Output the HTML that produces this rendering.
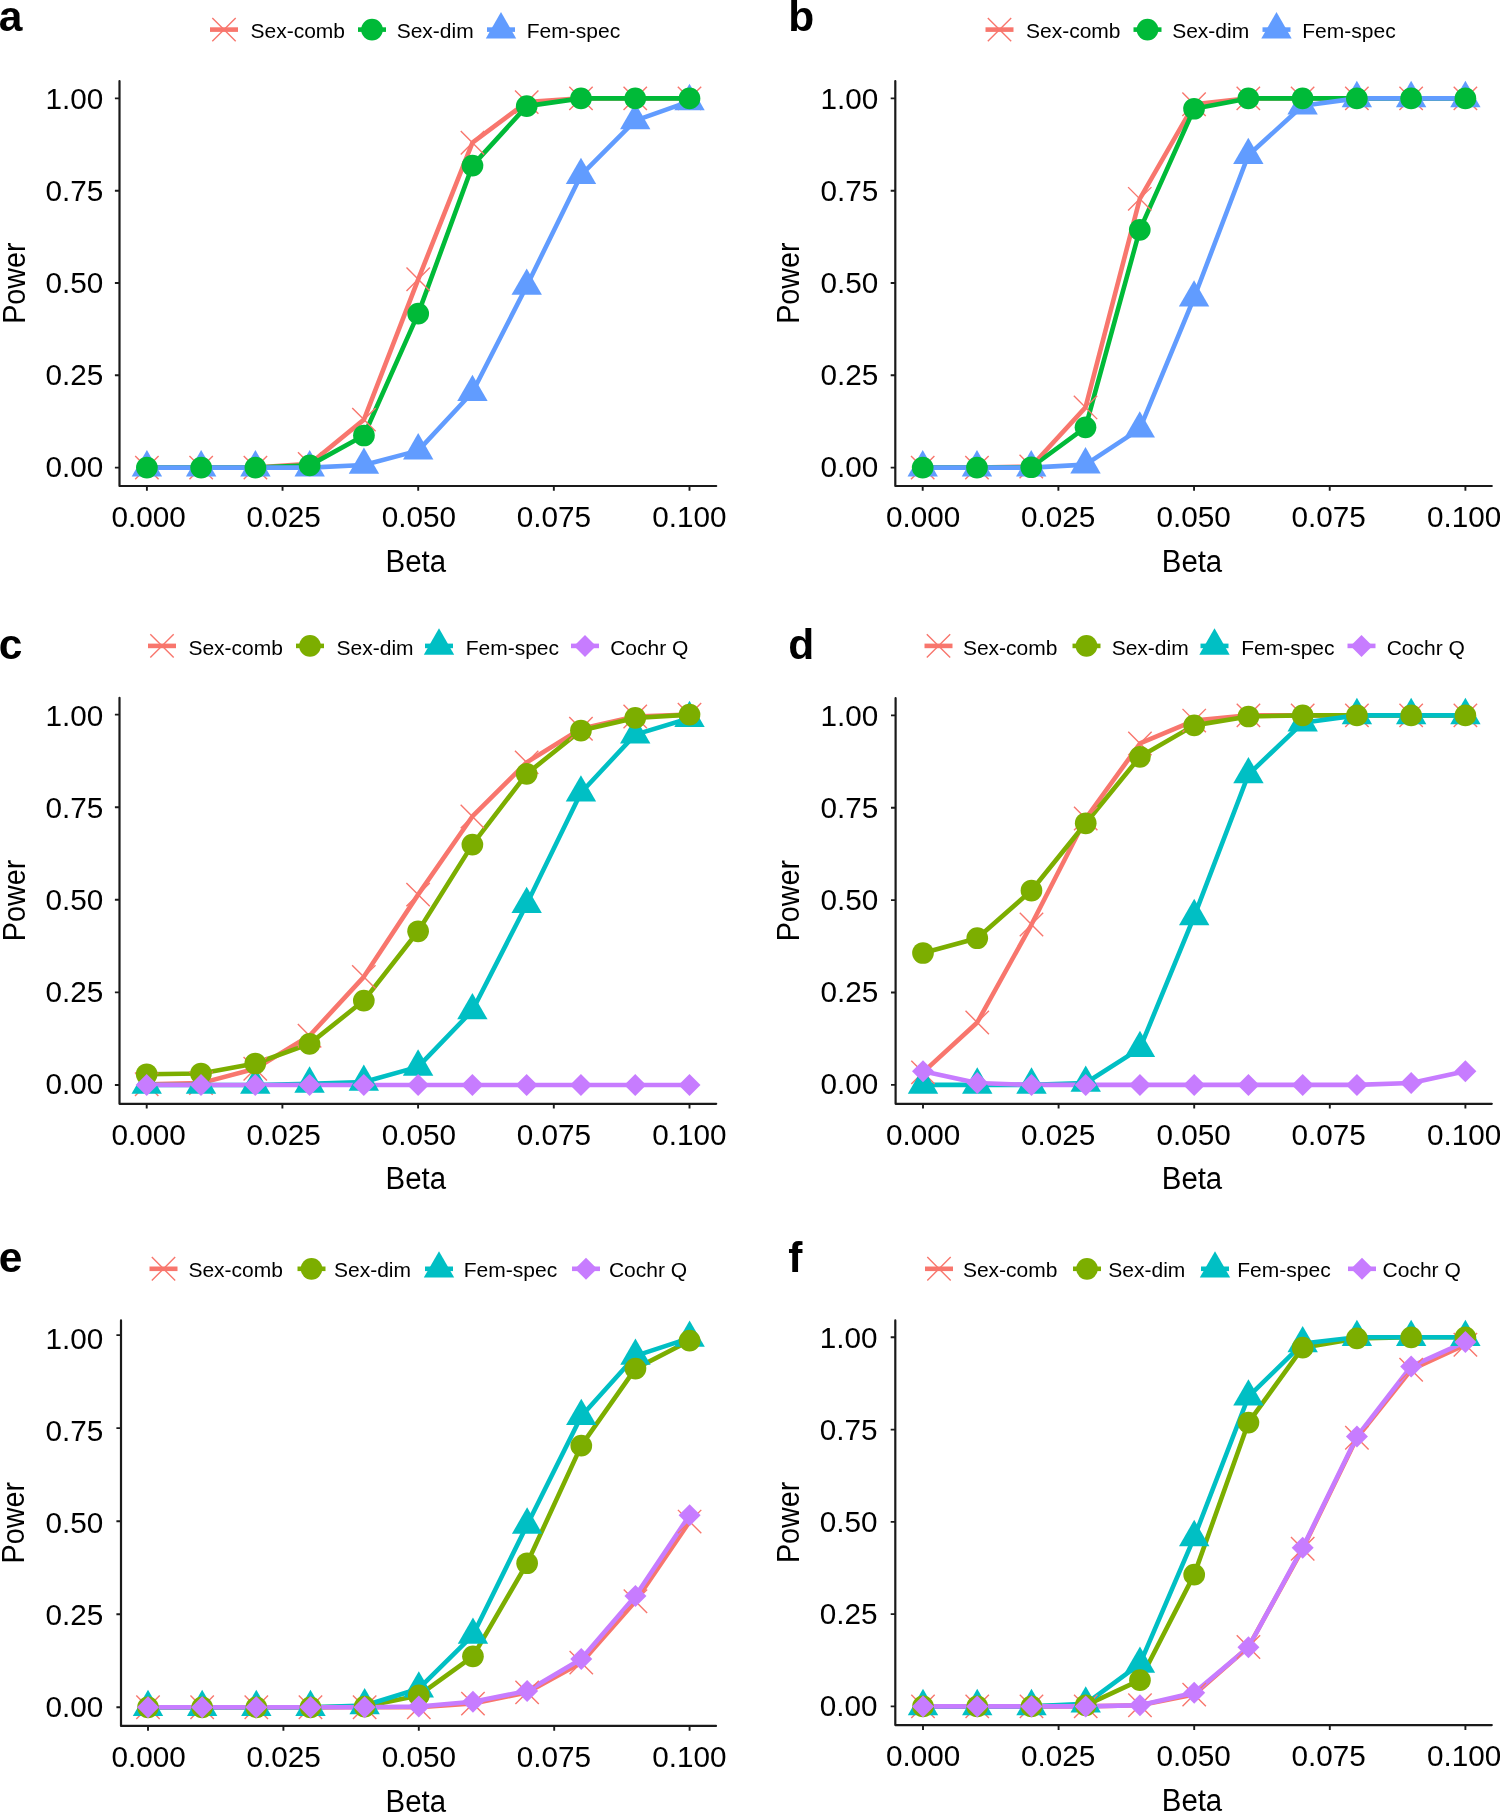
<!DOCTYPE html><html><head><meta charset="utf-8"><title>Power curves</title><style>html,body{margin:0;padding:0;background:#fff;}body{width:1500px;height:1812px;overflow:hidden;}svg{display:block;font-family:"Liberation Sans",sans-serif;}text{font-family:"Liberation Sans",sans-serif;fill:#000;}svg{will-change:transform;}.tk{font-size:29.7px;}.ti{font-size:29.5px;}.tp{font-size:30.6px;}.lg{font-size:21.0px;}.lb{font-size:42.5px;font-weight:bold;}</style></head><body>
<svg width="1500" height="1812" viewBox="0 0 1500 1812">
<rect width="1500" height="1812" fill="#fff"/>
<g><path d="M119.5 81L119.5 486L716.2 486" stroke="#1a1a1a" stroke-width="2.2" fill="none" stroke-linecap="round" stroke-linejoin="round"/><path d="M114.9 467.6H119.5M146.9 486V490.8M114.9 375.3H119.5M282.55 486V490.8M114.9 283H119.5M418.2 486V490.8M114.9 190.7H119.5M553.85 486V490.8M114.9 98.4H119.5M689.5 486V490.8" stroke="#1a1a1a" stroke-width="1.9" fill="none"/><text class="tk" x="103.2" y="477.2" text-anchor="end">0.00</text><text class="tk" x="148.65" y="527" text-anchor="middle">0.000</text><text class="tk" x="103.2" y="385.2" text-anchor="end">0.25</text><text class="tk" x="283.6" y="527" text-anchor="middle">0.025</text><text class="tk" x="103.2" y="293.2" text-anchor="end">0.50</text><text class="tk" x="419" y="527" text-anchor="middle">0.050</text><text class="tk" x="103.2" y="201.2" text-anchor="end">0.75</text><text class="tk" x="553.9" y="527" text-anchor="middle">0.075</text><text class="tk" x="103.2" y="109.2" text-anchor="end">1.00</text><text class="tk" x="689.4" y="527" text-anchor="middle">0.100</text><text class="tp" transform="translate(415.8 571.6) scale(0.96 1)" text-anchor="middle">Beta</text><text class="tp" transform="translate(24.6 283.1) rotate(-90) scale(0.94 1)" text-anchor="middle">Power</text><polyline points="146.9,467.6 201.16,467.6 255.42,467.6 309.68,463.91 363.94,419.6 418.2,279.31 472.46,142.7 526.72,102.09 580.98,98.4 635.24,98.4 689.5,98.4" fill="none" stroke="#F8766D" stroke-width="4.6" stroke-linejoin="round" stroke-linecap="butt"/><polyline points="146.9,467.6 201.16,467.6 255.42,467.6 309.68,465.38 363.94,435.48 418.2,313.64 472.46,165.59 526.72,106.15 580.98,98.4 635.24,98.4 689.5,98.4" fill="none" stroke="#00BA38" stroke-width="4.6" stroke-linejoin="round" stroke-linecap="butt"/><polyline points="146.9,467.6 201.16,467.6 255.42,467.6 309.68,467.6 363.94,465.02 418.2,450.62 472.46,392.28 526.72,285.95 580.98,175.19 635.24,120.55 689.5,101.35" fill="none" stroke="#619CFF" stroke-width="4.6" stroke-linejoin="round" stroke-linecap="butt"/><path d="M135.2 455.9L158.6 479.3M135.2 479.3L158.6 455.9" stroke="#F8766D" stroke-width="1.4" fill="none"/><path d="M189.46 455.9L212.86 479.3M189.46 479.3L212.86 455.9" stroke="#F8766D" stroke-width="1.4" fill="none"/><path d="M243.72 455.9L267.12 479.3M243.72 479.3L267.12 455.9" stroke="#F8766D" stroke-width="1.4" fill="none"/><path d="M297.98 452.21L321.38 475.61M297.98 475.61L321.38 452.21" stroke="#F8766D" stroke-width="1.4" fill="none"/><path d="M352.24 407.9L375.64 431.3M352.24 431.3L375.64 407.9" stroke="#F8766D" stroke-width="1.4" fill="none"/><path d="M406.5 267.61L429.9 291.01M406.5 291.01L429.9 267.61" stroke="#F8766D" stroke-width="1.4" fill="none"/><path d="M460.76 131L484.16 154.4M460.76 154.4L484.16 131" stroke="#F8766D" stroke-width="1.4" fill="none"/><path d="M515.02 90.39L538.42 113.79M515.02 113.79L538.42 90.39" stroke="#F8766D" stroke-width="1.4" fill="none"/><path d="M569.28 86.7L592.68 110.1M569.28 110.1L592.68 86.7" stroke="#F8766D" stroke-width="1.4" fill="none"/><path d="M623.54 86.7L646.94 110.1M623.54 110.1L646.94 86.7" stroke="#F8766D" stroke-width="1.4" fill="none"/><path d="M677.8 86.7L701.2 110.1M677.8 110.1L701.2 86.7" stroke="#F8766D" stroke-width="1.4" fill="none"/><path d="M146.9 450.05L162.1 476.38L131.7 476.38Z" fill="#619CFF"/><path d="M201.16 450.05L216.36 476.38L185.96 476.38Z" fill="#619CFF"/><path d="M255.42 450.05L270.62 476.38L240.22 476.38Z" fill="#619CFF"/><path d="M309.68 450.05L324.88 476.38L294.48 476.38Z" fill="#619CFF"/><path d="M363.94 447.46L379.14 473.79L348.74 473.79Z" fill="#619CFF"/><path d="M418.2 433.07L433.4 459.39L403 459.39Z" fill="#619CFF"/><path d="M472.46 374.73L487.66 401.06L457.26 401.06Z" fill="#619CFF"/><path d="M526.72 268.4L541.92 294.73L511.52 294.73Z" fill="#619CFF"/><path d="M580.98 157.64L596.18 183.97L565.78 183.97Z" fill="#619CFF"/><path d="M635.24 103L650.44 129.33L620.04 129.33Z" fill="#619CFF"/><path d="M689.5 83.8L704.7 110.13L674.3 110.13Z" fill="#619CFF"/><circle cx="146.9" cy="467.6" r="10.85" fill="#00BA38"/><circle cx="201.16" cy="467.6" r="10.85" fill="#00BA38"/><circle cx="255.42" cy="467.6" r="10.85" fill="#00BA38"/><circle cx="309.68" cy="465.38" r="10.85" fill="#00BA38"/><circle cx="363.94" cy="435.48" r="10.85" fill="#00BA38"/><circle cx="418.2" cy="313.64" r="10.85" fill="#00BA38"/><circle cx="472.46" cy="165.59" r="10.85" fill="#00BA38"/><circle cx="526.72" cy="106.15" r="10.85" fill="#00BA38"/><circle cx="580.98" cy="98.4" r="10.85" fill="#00BA38"/><circle cx="635.24" cy="98.4" r="10.85" fill="#00BA38"/><circle cx="689.5" cy="98.4" r="10.85" fill="#00BA38"/><path d="M210 29.6H238" stroke="#F8766D" stroke-width="4.6"/><path d="M212.3 17.9L235.7 41.3M212.3 41.3L235.7 17.9" stroke="#F8766D" stroke-width="1.4" fill="none"/><text class="lg" x="250.5" y="38.4">Sex-comb</text><path d="M358 29.6H386" stroke="#00BA38" stroke-width="4.6"/><circle cx="372" cy="29.6" r="10.85" fill="#00BA38"/><text class="lg" x="396.7" y="38.4">Sex-dim</text><path d="M487 29.6H515" stroke="#619CFF" stroke-width="4.6"/><path d="M501 12.05L516.2 38.38L485.8 38.38Z" fill="#619CFF"/><text class="lg" x="526.8" y="38.4">Fem-spec</text><text class="lb" x="-1.2" y="30.8">a</text></g>
<g><path d="M895.3 81L895.3 486L1491.8 486" stroke="#1a1a1a" stroke-width="2.2" fill="none" stroke-linecap="round" stroke-linejoin="round"/><path d="M890.7 467.6H895.3M922.7 486V490.8M890.7 375.3H895.3M1058.38 486V490.8M890.7 283H895.3M1194.05 486V490.8M890.7 190.7H895.3M1329.73 486V490.8M890.7 98.4H895.3M1465.4 486V490.8" stroke="#1a1a1a" stroke-width="1.9" fill="none"/><text class="tk" x="878.2" y="477.2" text-anchor="end">0.00</text><text class="tk" x="923.2" y="527" text-anchor="middle">0.000</text><text class="tk" x="878.2" y="385.2" text-anchor="end">0.25</text><text class="tk" x="1058.2" y="527" text-anchor="middle">0.025</text><text class="tk" x="878.2" y="293.2" text-anchor="end">0.50</text><text class="tk" x="1193.6" y="527" text-anchor="middle">0.050</text><text class="tk" x="878.2" y="201.2" text-anchor="end">0.75</text><text class="tk" x="1328.6" y="527" text-anchor="middle">0.075</text><text class="tk" x="878.2" y="109.2" text-anchor="end">1.00</text><text class="tk" x="1464.2" y="527" text-anchor="middle">0.100</text><text class="tp" transform="translate(1192 571.6) scale(0.96 1)" text-anchor="middle">Beta</text><text class="tp" transform="translate(799 283.1) rotate(-90) scale(0.94 1)" text-anchor="middle">Power</text><polyline points="922.7,467.6 976.97,467.6 1031.24,466.49 1085.51,407.42 1139.78,198.82 1194.05,104.31 1248.32,98.4 1302.59,98.4 1356.86,98.4 1411.13,98.4 1465.4,98.4" fill="none" stroke="#F8766D" stroke-width="4.6" stroke-linejoin="round" stroke-linecap="butt"/><polyline points="922.7,467.6 976.97,467.6 1031.24,467.23 1085.51,427.36 1139.78,229.84 1194.05,108.74 1248.32,98.4 1302.59,98.4 1356.86,98.4 1411.13,98.4 1465.4,98.4" fill="none" stroke="#00BA38" stroke-width="4.6" stroke-linejoin="round" stroke-linecap="butt"/><polyline points="922.7,467.6 976.97,467.6 1031.24,467.6 1085.51,464.65 1139.78,428.83 1194.05,297.77 1248.32,155.26 1302.59,105.78 1356.86,98.4 1411.13,98.4 1465.4,98.4" fill="none" stroke="#619CFF" stroke-width="4.6" stroke-linejoin="round" stroke-linecap="butt"/><path d="M911 455.9L934.4 479.3M911 479.3L934.4 455.9" stroke="#F8766D" stroke-width="1.4" fill="none"/><path d="M965.27 455.9L988.67 479.3M965.27 479.3L988.67 455.9" stroke="#F8766D" stroke-width="1.4" fill="none"/><path d="M1019.54 454.79L1042.94 478.19M1019.54 478.19L1042.94 454.79" stroke="#F8766D" stroke-width="1.4" fill="none"/><path d="M1073.81 395.72L1097.21 419.12M1073.81 419.12L1097.21 395.72" stroke="#F8766D" stroke-width="1.4" fill="none"/><path d="M1128.08 187.12L1151.48 210.52M1128.08 210.52L1151.48 187.12" stroke="#F8766D" stroke-width="1.4" fill="none"/><path d="M1182.35 92.61L1205.75 116.01M1182.35 116.01L1205.75 92.61" stroke="#F8766D" stroke-width="1.4" fill="none"/><path d="M1236.62 86.7L1260.02 110.1M1236.62 110.1L1260.02 86.7" stroke="#F8766D" stroke-width="1.4" fill="none"/><path d="M1290.89 86.7L1314.29 110.1M1290.89 110.1L1314.29 86.7" stroke="#F8766D" stroke-width="1.4" fill="none"/><path d="M1345.16 86.7L1368.56 110.1M1345.16 110.1L1368.56 86.7" stroke="#F8766D" stroke-width="1.4" fill="none"/><path d="M1399.43 86.7L1422.83 110.1M1399.43 110.1L1422.83 86.7" stroke="#F8766D" stroke-width="1.4" fill="none"/><path d="M1453.7 86.7L1477.1 110.1M1453.7 110.1L1477.1 86.7" stroke="#F8766D" stroke-width="1.4" fill="none"/><path d="M922.7 450.05L937.9 476.38L907.5 476.38Z" fill="#619CFF"/><path d="M976.97 450.05L992.17 476.38L961.77 476.38Z" fill="#619CFF"/><path d="M1031.24 450.05L1046.44 476.38L1016.04 476.38Z" fill="#619CFF"/><path d="M1085.51 447.09L1100.71 473.42L1070.31 473.42Z" fill="#619CFF"/><path d="M1139.78 411.28L1154.98 437.61L1124.58 437.61Z" fill="#619CFF"/><path d="M1194.05 280.22L1209.25 306.54L1178.85 306.54Z" fill="#619CFF"/><path d="M1248.32 137.71L1263.52 164.03L1233.12 164.03Z" fill="#619CFF"/><path d="M1302.59 88.23L1317.79 114.56L1287.39 114.56Z" fill="#619CFF"/><path d="M1356.86 80.85L1372.06 107.18L1341.66 107.18Z" fill="#619CFF"/><path d="M1411.13 80.85L1426.33 107.18L1395.93 107.18Z" fill="#619CFF"/><path d="M1465.4 80.85L1480.6 107.18L1450.2 107.18Z" fill="#619CFF"/><circle cx="922.7" cy="467.6" r="10.85" fill="#00BA38"/><circle cx="976.97" cy="467.6" r="10.85" fill="#00BA38"/><circle cx="1031.24" cy="467.23" r="10.85" fill="#00BA38"/><circle cx="1085.51" cy="427.36" r="10.85" fill="#00BA38"/><circle cx="1139.78" cy="229.84" r="10.85" fill="#00BA38"/><circle cx="1194.05" cy="108.74" r="10.85" fill="#00BA38"/><circle cx="1248.32" cy="98.4" r="10.85" fill="#00BA38"/><circle cx="1302.59" cy="98.4" r="10.85" fill="#00BA38"/><circle cx="1356.86" cy="98.4" r="10.85" fill="#00BA38"/><circle cx="1411.13" cy="98.4" r="10.85" fill="#00BA38"/><circle cx="1465.4" cy="98.4" r="10.85" fill="#00BA38"/><path d="M985.5 29.6H1013.5" stroke="#F8766D" stroke-width="4.6"/><path d="M987.8 17.9L1011.2 41.3M987.8 41.3L1011.2 17.9" stroke="#F8766D" stroke-width="1.4" fill="none"/><text class="lg" x="1026" y="38.4">Sex-comb</text><path d="M1133.5 29.6H1161.5" stroke="#00BA38" stroke-width="4.6"/><circle cx="1147.5" cy="29.6" r="10.85" fill="#00BA38"/><text class="lg" x="1172.2" y="38.4">Sex-dim</text><path d="M1262.5 29.6H1290.5" stroke="#619CFF" stroke-width="4.6"/><path d="M1276.5 12.05L1291.7 38.38L1261.3 38.38Z" fill="#619CFF"/><text class="lg" x="1302.3" y="38.4">Fem-spec</text><text class="lb" x="788.2" y="30.8">b</text></g>
<g><path d="M119.5 697.8L119.5 1103.8L716.2 1103.8" stroke="#1a1a1a" stroke-width="2.2" fill="none" stroke-linecap="round" stroke-linejoin="round"/><path d="M114.9 1085H119.5M146.7 1103.8V1108.6M114.9 992.4H119.5M282.4 1103.8V1108.6M114.9 899.8H119.5M418.1 1103.8V1108.6M114.9 807.2H119.5M553.8 1103.8V1108.6M114.9 714.6H119.5M689.5 1103.8V1108.6" stroke="#1a1a1a" stroke-width="1.9" fill="none"/><text class="tk" x="103.2" y="1094.4" text-anchor="end">0.00</text><text class="tk" x="148.65" y="1144.8" text-anchor="middle">0.000</text><text class="tk" x="103.2" y="1002.4" text-anchor="end">0.25</text><text class="tk" x="283.6" y="1144.8" text-anchor="middle">0.025</text><text class="tk" x="103.2" y="910.4" text-anchor="end">0.50</text><text class="tk" x="419" y="1144.8" text-anchor="middle">0.050</text><text class="tk" x="103.2" y="818.4" text-anchor="end">0.75</text><text class="tk" x="553.9" y="1144.8" text-anchor="middle">0.075</text><text class="tk" x="103.2" y="726.4" text-anchor="end">1.00</text><text class="tk" x="689.4" y="1144.8" text-anchor="middle">0.100</text><text class="tp" transform="translate(415.8 1189.4) scale(0.96 1)" text-anchor="middle">Beta</text><text class="tp" transform="translate(24.6 900.4) rotate(-90) scale(0.94 1)" text-anchor="middle">Power</text><polyline points="146.7,1084.26 200.98,1083.15 255.26,1068.7 309.54,1035.74 363.82,976.84 418.1,894.61 472.38,816.46 526.66,762.38 580.94,728.68 635.22,716.45 689.5,714.6" fill="none" stroke="#F8766D" stroke-width="4.6" stroke-linejoin="round" stroke-linecap="butt"/><polyline points="146.7,1074.26 200.98,1073.52 255.26,1063.52 309.54,1043.89 363.82,1000.55 418.1,931.28 472.38,844.61 526.66,773.86 580.94,730.53 635.22,717.93 689.5,714.6" fill="none" stroke="#7CAE00" stroke-width="4.6" stroke-linejoin="round" stroke-linecap="butt"/><polyline points="146.7,1085 200.98,1085 255.26,1085 309.54,1083.89 363.82,1082.04 418.1,1066.85 472.38,1010.55 526.66,904.24 580.94,792.75 635.22,734.6 689.5,718.3" fill="none" stroke="#00BFC4" stroke-width="4.6" stroke-linejoin="round" stroke-linecap="butt"/><polyline points="146.7,1085 200.98,1085 255.26,1085 309.54,1085 363.82,1085 418.1,1085 472.38,1085 526.66,1085 580.94,1085 635.22,1085 689.5,1085" fill="none" stroke="#C77CFF" stroke-width="4.6" stroke-linejoin="round" stroke-linecap="butt"/><path d="M135 1072.56L158.4 1095.96M135 1095.96L158.4 1072.56" stroke="#F8766D" stroke-width="1.4" fill="none"/><path d="M189.28 1071.45L212.68 1094.85M189.28 1094.85L212.68 1071.45" stroke="#F8766D" stroke-width="1.4" fill="none"/><path d="M243.56 1057L266.96 1080.4M243.56 1080.4L266.96 1057" stroke="#F8766D" stroke-width="1.4" fill="none"/><path d="M297.84 1024.04L321.24 1047.44M297.84 1047.44L321.24 1024.04" stroke="#F8766D" stroke-width="1.4" fill="none"/><path d="M352.12 965.14L375.52 988.54M352.12 988.54L375.52 965.14" stroke="#F8766D" stroke-width="1.4" fill="none"/><path d="M406.4 882.91L429.8 906.31M406.4 906.31L429.8 882.91" stroke="#F8766D" stroke-width="1.4" fill="none"/><path d="M460.68 804.76L484.08 828.16M460.68 828.16L484.08 804.76" stroke="#F8766D" stroke-width="1.4" fill="none"/><path d="M514.96 750.68L538.36 774.08M514.96 774.08L538.36 750.68" stroke="#F8766D" stroke-width="1.4" fill="none"/><path d="M569.24 716.98L592.64 740.38M569.24 740.38L592.64 716.98" stroke="#F8766D" stroke-width="1.4" fill="none"/><path d="M623.52 704.75L646.92 728.15M623.52 728.15L646.92 704.75" stroke="#F8766D" stroke-width="1.4" fill="none"/><path d="M677.8 702.9L701.2 726.3M677.8 726.3L701.2 702.9" stroke="#F8766D" stroke-width="1.4" fill="none"/><path d="M146.7 1067.45L161.9 1093.78L131.5 1093.78Z" fill="#00BFC4"/><path d="M200.98 1067.45L216.18 1093.78L185.78 1093.78Z" fill="#00BFC4"/><path d="M255.26 1067.45L270.46 1093.78L240.06 1093.78Z" fill="#00BFC4"/><path d="M309.54 1066.34L324.74 1092.66L294.34 1092.66Z" fill="#00BFC4"/><path d="M363.82 1064.49L379.02 1090.81L348.62 1090.81Z" fill="#00BFC4"/><path d="M418.1 1049.3L433.3 1075.63L402.9 1075.63Z" fill="#00BFC4"/><path d="M472.38 993L487.58 1019.33L457.18 1019.33Z" fill="#00BFC4"/><path d="M526.66 886.69L541.86 913.02L511.46 913.02Z" fill="#00BFC4"/><path d="M580.94 775.2L596.14 801.53L565.74 801.53Z" fill="#00BFC4"/><path d="M635.22 717.05L650.42 743.38L620.02 743.38Z" fill="#00BFC4"/><path d="M689.5 700.75L704.7 727.08L674.3 727.08Z" fill="#00BFC4"/><circle cx="146.7" cy="1074.26" r="10.85" fill="#7CAE00"/><circle cx="200.98" cy="1073.52" r="10.85" fill="#7CAE00"/><circle cx="255.26" cy="1063.52" r="10.85" fill="#7CAE00"/><circle cx="309.54" cy="1043.89" r="10.85" fill="#7CAE00"/><circle cx="363.82" cy="1000.55" r="10.85" fill="#7CAE00"/><circle cx="418.1" cy="931.28" r="10.85" fill="#7CAE00"/><circle cx="472.38" cy="844.61" r="10.85" fill="#7CAE00"/><circle cx="526.66" cy="773.86" r="10.85" fill="#7CAE00"/><circle cx="580.94" cy="730.53" r="10.85" fill="#7CAE00"/><circle cx="635.22" cy="717.93" r="10.85" fill="#7CAE00"/><circle cx="689.5" cy="714.6" r="10.85" fill="#7CAE00"/><path d="M146.7 1074L157.7 1085L146.7 1096L135.7 1085Z" fill="#C77CFF"/><path d="M200.98 1074L211.98 1085L200.98 1096L189.98 1085Z" fill="#C77CFF"/><path d="M255.26 1074L266.26 1085L255.26 1096L244.26 1085Z" fill="#C77CFF"/><path d="M309.54 1074L320.54 1085L309.54 1096L298.54 1085Z" fill="#C77CFF"/><path d="M363.82 1074L374.82 1085L363.82 1096L352.82 1085Z" fill="#C77CFF"/><path d="M418.1 1074L429.1 1085L418.1 1096L407.1 1085Z" fill="#C77CFF"/><path d="M472.38 1074L483.38 1085L472.38 1096L461.38 1085Z" fill="#C77CFF"/><path d="M526.66 1074L537.66 1085L526.66 1096L515.66 1085Z" fill="#C77CFF"/><path d="M580.94 1074L591.94 1085L580.94 1096L569.94 1085Z" fill="#C77CFF"/><path d="M635.22 1074L646.22 1085L635.22 1096L624.22 1085Z" fill="#C77CFF"/><path d="M689.5 1074L700.5 1085L689.5 1096L678.5 1085Z" fill="#C77CFF"/><path d="M148 645.9H176" stroke="#F8766D" stroke-width="4.6"/><path d="M150.3 634.2L173.7 657.6M150.3 657.6L173.7 634.2" stroke="#F8766D" stroke-width="1.4" fill="none"/><text class="lg" x="188.4" y="654.7">Sex-comb</text><path d="M296 645.9H324" stroke="#7CAE00" stroke-width="4.6"/><circle cx="310" cy="645.9" r="10.85" fill="#7CAE00"/><text class="lg" x="336.6" y="654.7">Sex-dim</text><path d="M425 645.9H453" stroke="#00BFC4" stroke-width="4.6"/><path d="M439 628.35L454.2 654.68L423.8 654.68Z" fill="#00BFC4"/><text class="lg" x="465.7" y="654.7">Fem-spec</text><path d="M571 645.9H599" stroke="#C77CFF" stroke-width="4.6"/><path d="M585 634.9L596 645.9L585 656.9L574 645.9Z" fill="#C77CFF"/><text class="lg" x="610.2" y="654.7">Cochr Q</text><text class="lb" x="-1.2" y="658.6">c</text></g>
<g><path d="M895.6 698.2L895.6 1103.8L1491.8 1103.8" stroke="#1a1a1a" stroke-width="2.2" fill="none" stroke-linecap="round" stroke-linejoin="round"/><path d="M891 1084.9H895.6M923 1103.8V1108.6M891 992.53H895.6M1058.6 1103.8V1108.6M891 900.15H895.6M1194.2 1103.8V1108.6M891 807.77H895.6M1329.8 1103.8V1108.6M891 715.4H895.6M1465.4 1103.8V1108.6" stroke="#1a1a1a" stroke-width="1.9" fill="none"/><text class="tk" x="878.2" y="1094.4" text-anchor="end">0.00</text><text class="tk" x="923.2" y="1144.8" text-anchor="middle">0.000</text><text class="tk" x="878.2" y="1002.4" text-anchor="end">0.25</text><text class="tk" x="1058.2" y="1144.8" text-anchor="middle">0.025</text><text class="tk" x="878.2" y="910.4" text-anchor="end">0.50</text><text class="tk" x="1193.6" y="1144.8" text-anchor="middle">0.050</text><text class="tk" x="878.2" y="818.4" text-anchor="end">0.75</text><text class="tk" x="1328.6" y="1144.8" text-anchor="middle">0.075</text><text class="tk" x="878.2" y="726.4" text-anchor="end">1.00</text><text class="tk" x="1464.2" y="1144.8" text-anchor="middle">0.100</text><text class="tp" transform="translate(1192 1189.4) scale(0.96 1)" text-anchor="middle">Beta</text><text class="tp" transform="translate(799 900.6) rotate(-90) scale(0.94 1)" text-anchor="middle">Power</text><polyline points="923,1072.34 977.24,1022.45 1031.48,924.54 1085.72,818.49 1139.96,743.48 1194.2,720.57 1248.44,715.4 1302.68,715.4 1356.92,715.4 1411.16,715.4 1465.4,715.4" fill="none" stroke="#F8766D" stroke-width="4.6" stroke-linejoin="round" stroke-linecap="butt"/><polyline points="923,952.99 977.24,938.21 1031.48,890.54 1085.72,823.29 1139.96,756.78 1194.2,725.38 1248.44,716.51 1302.68,715.4 1356.92,715.4 1411.16,715.4 1465.4,715.4" fill="none" stroke="#7CAE00" stroke-width="4.6" stroke-linejoin="round" stroke-linecap="butt"/><polyline points="923,1084.9 977.24,1084.9 1031.48,1084.9 1085.72,1083.05 1139.96,1048.32 1194.2,916.41 1248.44,774.52 1302.68,722.79 1356.92,715.4 1411.16,715.4 1465.4,715.4" fill="none" stroke="#00BFC4" stroke-width="4.6" stroke-linejoin="round" stroke-linecap="butt"/><polyline points="923,1071.23 977.24,1083.05 1031.48,1084.9 1085.72,1084.9 1139.96,1084.9 1194.2,1084.9 1248.44,1084.9 1302.68,1084.9 1356.92,1084.9 1411.16,1083.05 1465.4,1071.23" fill="none" stroke="#C77CFF" stroke-width="4.6" stroke-linejoin="round" stroke-linecap="butt"/><path d="M911.3 1060.64L934.7 1084.04M911.3 1084.04L934.7 1060.64" stroke="#F8766D" stroke-width="1.4" fill="none"/><path d="M965.54 1010.75L988.94 1034.15M965.54 1034.15L988.94 1010.75" stroke="#F8766D" stroke-width="1.4" fill="none"/><path d="M1019.78 912.84L1043.18 936.24M1019.78 936.24L1043.18 912.84" stroke="#F8766D" stroke-width="1.4" fill="none"/><path d="M1074.02 806.79L1097.42 830.19M1074.02 830.19L1097.42 806.79" stroke="#F8766D" stroke-width="1.4" fill="none"/><path d="M1128.26 731.78L1151.66 755.18M1128.26 755.18L1151.66 731.78" stroke="#F8766D" stroke-width="1.4" fill="none"/><path d="M1182.5 708.87L1205.9 732.27M1182.5 732.27L1205.9 708.87" stroke="#F8766D" stroke-width="1.4" fill="none"/><path d="M1236.74 703.7L1260.14 727.1M1236.74 727.1L1260.14 703.7" stroke="#F8766D" stroke-width="1.4" fill="none"/><path d="M1290.98 703.7L1314.38 727.1M1290.98 727.1L1314.38 703.7" stroke="#F8766D" stroke-width="1.4" fill="none"/><path d="M1345.22 703.7L1368.62 727.1M1345.22 727.1L1368.62 703.7" stroke="#F8766D" stroke-width="1.4" fill="none"/><path d="M1399.46 703.7L1422.86 727.1M1399.46 727.1L1422.86 703.7" stroke="#F8766D" stroke-width="1.4" fill="none"/><path d="M1453.7 703.7L1477.1 727.1M1453.7 727.1L1477.1 703.7" stroke="#F8766D" stroke-width="1.4" fill="none"/><path d="M923 1067.35L938.2 1093.68L907.8 1093.68Z" fill="#00BFC4"/><path d="M977.24 1067.35L992.44 1093.68L962.04 1093.68Z" fill="#00BFC4"/><path d="M1031.48 1067.35L1046.68 1093.68L1016.28 1093.68Z" fill="#00BFC4"/><path d="M1085.72 1065.5L1100.92 1091.83L1070.52 1091.83Z" fill="#00BFC4"/><path d="M1139.96 1030.77L1155.16 1057.1L1124.76 1057.1Z" fill="#00BFC4"/><path d="M1194.2 898.86L1209.4 925.18L1179 925.18Z" fill="#00BFC4"/><path d="M1248.44 756.97L1263.64 783.3L1233.24 783.3Z" fill="#00BFC4"/><path d="M1302.68 705.24L1317.88 731.57L1287.48 731.57Z" fill="#00BFC4"/><path d="M1356.92 697.85L1372.12 724.18L1341.72 724.18Z" fill="#00BFC4"/><path d="M1411.16 697.85L1426.36 724.18L1395.96 724.18Z" fill="#00BFC4"/><path d="M1465.4 697.85L1480.6 724.18L1450.2 724.18Z" fill="#00BFC4"/><circle cx="923" cy="952.99" r="10.85" fill="#7CAE00"/><circle cx="977.24" cy="938.21" r="10.85" fill="#7CAE00"/><circle cx="1031.48" cy="890.54" r="10.85" fill="#7CAE00"/><circle cx="1085.72" cy="823.29" r="10.85" fill="#7CAE00"/><circle cx="1139.96" cy="756.78" r="10.85" fill="#7CAE00"/><circle cx="1194.2" cy="725.38" r="10.85" fill="#7CAE00"/><circle cx="1248.44" cy="716.51" r="10.85" fill="#7CAE00"/><circle cx="1302.68" cy="715.4" r="10.85" fill="#7CAE00"/><circle cx="1356.92" cy="715.4" r="10.85" fill="#7CAE00"/><circle cx="1411.16" cy="715.4" r="10.85" fill="#7CAE00"/><circle cx="1465.4" cy="715.4" r="10.85" fill="#7CAE00"/><path d="M923 1060.23L934 1071.23L923 1082.23L912 1071.23Z" fill="#C77CFF"/><path d="M977.24 1072.05L988.24 1083.05L977.24 1094.05L966.24 1083.05Z" fill="#C77CFF"/><path d="M1031.48 1073.9L1042.48 1084.9L1031.48 1095.9L1020.48 1084.9Z" fill="#C77CFF"/><path d="M1085.72 1073.9L1096.72 1084.9L1085.72 1095.9L1074.72 1084.9Z" fill="#C77CFF"/><path d="M1139.96 1073.9L1150.96 1084.9L1139.96 1095.9L1128.96 1084.9Z" fill="#C77CFF"/><path d="M1194.2 1073.9L1205.2 1084.9L1194.2 1095.9L1183.2 1084.9Z" fill="#C77CFF"/><path d="M1248.44 1073.9L1259.44 1084.9L1248.44 1095.9L1237.44 1084.9Z" fill="#C77CFF"/><path d="M1302.68 1073.9L1313.68 1084.9L1302.68 1095.9L1291.68 1084.9Z" fill="#C77CFF"/><path d="M1356.92 1073.9L1367.92 1084.9L1356.92 1095.9L1345.92 1084.9Z" fill="#C77CFF"/><path d="M1411.16 1072.05L1422.16 1083.05L1411.16 1094.05L1400.16 1083.05Z" fill="#C77CFF"/><path d="M1465.4 1060.23L1476.4 1071.23L1465.4 1082.23L1454.4 1071.23Z" fill="#C77CFF"/><path d="M924.5 645.9H952.5" stroke="#F8766D" stroke-width="4.6"/><path d="M926.8 634.2L950.2 657.6M926.8 657.6L950.2 634.2" stroke="#F8766D" stroke-width="1.4" fill="none"/><text class="lg" x="962.9" y="654.7">Sex-comb</text><path d="M1072.5 645.9H1100.5" stroke="#7CAE00" stroke-width="4.6"/><circle cx="1086.5" cy="645.9" r="10.85" fill="#7CAE00"/><text class="lg" x="1111.7" y="654.7">Sex-dim</text><path d="M1200.5 645.9H1228.5" stroke="#00BFC4" stroke-width="4.6"/><path d="M1214.5 628.35L1229.7 654.68L1199.3 654.68Z" fill="#00BFC4"/><text class="lg" x="1241.2" y="654.7">Fem-spec</text><path d="M1347.5 645.9H1375.5" stroke="#C77CFF" stroke-width="4.6"/><path d="M1361.5 634.9L1372.5 645.9L1361.5 656.9L1350.5 645.9Z" fill="#C77CFF"/><text class="lg" x="1386.7" y="654.7">Cochr Q</text><text class="lb" x="788.2" y="658.6">d</text></g>
<g><path d="M121 1320.4L121 1725.9L716 1725.9" stroke="#1a1a1a" stroke-width="2.2" fill="none" stroke-linecap="round" stroke-linejoin="round"/><path d="M116.4 1707.3H121M148 1725.9V1730.7M116.4 1614.25H121M283.4 1725.9V1730.7M116.4 1521.2H121M418.8 1725.9V1730.7M116.4 1428.15H121M554.2 1725.9V1730.7M116.4 1335.1H121M689.6 1725.9V1730.7" stroke="#1a1a1a" stroke-width="1.9" fill="none"/><text class="tk" x="103.2" y="1717.1" text-anchor="end">0.00</text><text class="tk" x="148.65" y="1766.9" text-anchor="middle">0.000</text><text class="tk" x="103.2" y="1625.1" text-anchor="end">0.25</text><text class="tk" x="283.6" y="1766.9" text-anchor="middle">0.025</text><text class="tk" x="103.2" y="1533.1" text-anchor="end">0.50</text><text class="tk" x="419" y="1766.9" text-anchor="middle">0.050</text><text class="tk" x="103.2" y="1441.1" text-anchor="end">0.75</text><text class="tk" x="553.9" y="1766.9" text-anchor="middle">0.075</text><text class="tk" x="103.2" y="1349.1" text-anchor="end">1.00</text><text class="tk" x="689.4" y="1766.9" text-anchor="middle">0.100</text><text class="tp" transform="translate(415.8 1811.5) scale(0.96 1)" text-anchor="middle">Beta</text><text class="tp" transform="translate(24.3 1522.75) rotate(-90) scale(0.94 1)" text-anchor="middle">Power</text><polyline points="148,1707.3 202.16,1707.3 256.32,1707.3 310.48,1707.3 364.64,1707.3 418.8,1707.3 472.96,1703.58 527.12,1692.41 581.28,1662.64 635.44,1601.22 689.6,1521.57" fill="none" stroke="#F8766D" stroke-width="4.6" stroke-linejoin="round" stroke-linecap="butt"/><polyline points="148,1707.3 202.16,1707.3 256.32,1707.3 310.48,1707.3 364.64,1706.56 418.8,1695.39 472.96,1656.31 527.12,1563.26 581.28,1445.64 635.44,1368.6 689.6,1340.68" fill="none" stroke="#7CAE00" stroke-width="4.6" stroke-linejoin="round" stroke-linecap="butt"/><polyline points="148,1707.3 202.16,1707.3 256.32,1707.3 310.48,1707.3 364.64,1705.44 418.8,1688.69 472.96,1635.09 527.12,1524.92 581.28,1416.24 635.44,1355.94 689.6,1338.08" fill="none" stroke="#00BFC4" stroke-width="4.6" stroke-linejoin="round" stroke-linecap="butt"/><polyline points="148,1707.3 202.16,1707.3 256.32,1707.3 310.48,1707.3 364.64,1707.3 418.8,1706.56 472.96,1701.72 527.12,1690.92 581.28,1658.91 635.44,1596.01 689.6,1515.24" fill="none" stroke="#C77CFF" stroke-width="4.6" stroke-linejoin="round" stroke-linecap="butt"/><path d="M136.3 1695.6L159.7 1719M136.3 1719L159.7 1695.6" stroke="#F8766D" stroke-width="1.4" fill="none"/><path d="M190.46 1695.6L213.86 1719M190.46 1719L213.86 1695.6" stroke="#F8766D" stroke-width="1.4" fill="none"/><path d="M244.62 1695.6L268.02 1719M244.62 1719L268.02 1695.6" stroke="#F8766D" stroke-width="1.4" fill="none"/><path d="M298.78 1695.6L322.18 1719M298.78 1719L322.18 1695.6" stroke="#F8766D" stroke-width="1.4" fill="none"/><path d="M352.94 1695.6L376.34 1719M352.94 1719L376.34 1695.6" stroke="#F8766D" stroke-width="1.4" fill="none"/><path d="M407.1 1695.6L430.5 1719M407.1 1719L430.5 1695.6" stroke="#F8766D" stroke-width="1.4" fill="none"/><path d="M461.26 1691.88L484.66 1715.28M461.26 1715.28L484.66 1691.88" stroke="#F8766D" stroke-width="1.4" fill="none"/><path d="M515.42 1680.71L538.82 1704.11M515.42 1704.11L538.82 1680.71" stroke="#F8766D" stroke-width="1.4" fill="none"/><path d="M569.58 1650.94L592.98 1674.34M569.58 1674.34L592.98 1650.94" stroke="#F8766D" stroke-width="1.4" fill="none"/><path d="M623.74 1589.52L647.14 1612.92M623.74 1612.92L647.14 1589.52" stroke="#F8766D" stroke-width="1.4" fill="none"/><path d="M677.9 1509.87L701.3 1533.27M677.9 1533.27L701.3 1509.87" stroke="#F8766D" stroke-width="1.4" fill="none"/><path d="M148 1689.75L163.2 1716.08L132.8 1716.08Z" fill="#00BFC4"/><path d="M202.16 1689.75L217.36 1716.08L186.96 1716.08Z" fill="#00BFC4"/><path d="M256.32 1689.75L271.52 1716.08L241.12 1716.08Z" fill="#00BFC4"/><path d="M310.48 1689.75L325.68 1716.08L295.28 1716.08Z" fill="#00BFC4"/><path d="M364.64 1687.89L379.84 1714.21L349.44 1714.21Z" fill="#00BFC4"/><path d="M418.8 1671.14L434 1697.47L403.6 1697.47Z" fill="#00BFC4"/><path d="M472.96 1617.54L488.16 1643.87L457.76 1643.87Z" fill="#00BFC4"/><path d="M527.12 1507.37L542.32 1533.7L511.92 1533.7Z" fill="#00BFC4"/><path d="M581.28 1398.69L596.48 1425.02L566.08 1425.02Z" fill="#00BFC4"/><path d="M635.44 1338.39L650.64 1364.72L620.24 1364.72Z" fill="#00BFC4"/><path d="M689.6 1320.53L704.8 1346.85L674.4 1346.85Z" fill="#00BFC4"/><circle cx="148" cy="1707.3" r="10.85" fill="#7CAE00"/><circle cx="202.16" cy="1707.3" r="10.85" fill="#7CAE00"/><circle cx="256.32" cy="1707.3" r="10.85" fill="#7CAE00"/><circle cx="310.48" cy="1707.3" r="10.85" fill="#7CAE00"/><circle cx="364.64" cy="1706.56" r="10.85" fill="#7CAE00"/><circle cx="418.8" cy="1695.39" r="10.85" fill="#7CAE00"/><circle cx="472.96" cy="1656.31" r="10.85" fill="#7CAE00"/><circle cx="527.12" cy="1563.26" r="10.85" fill="#7CAE00"/><circle cx="581.28" cy="1445.64" r="10.85" fill="#7CAE00"/><circle cx="635.44" cy="1368.6" r="10.85" fill="#7CAE00"/><circle cx="689.6" cy="1340.68" r="10.85" fill="#7CAE00"/><path d="M148 1696.3L159 1707.3L148 1718.3L137 1707.3Z" fill="#C77CFF"/><path d="M202.16 1696.3L213.16 1707.3L202.16 1718.3L191.16 1707.3Z" fill="#C77CFF"/><path d="M256.32 1696.3L267.32 1707.3L256.32 1718.3L245.32 1707.3Z" fill="#C77CFF"/><path d="M310.48 1696.3L321.48 1707.3L310.48 1718.3L299.48 1707.3Z" fill="#C77CFF"/><path d="M364.64 1696.3L375.64 1707.3L364.64 1718.3L353.64 1707.3Z" fill="#C77CFF"/><path d="M418.8 1695.56L429.8 1706.56L418.8 1717.56L407.8 1706.56Z" fill="#C77CFF"/><path d="M472.96 1690.72L483.96 1701.72L472.96 1712.72L461.96 1701.72Z" fill="#C77CFF"/><path d="M527.12 1679.92L538.12 1690.92L527.12 1701.92L516.12 1690.92Z" fill="#C77CFF"/><path d="M581.28 1647.91L592.28 1658.91L581.28 1669.91L570.28 1658.91Z" fill="#C77CFF"/><path d="M635.44 1585.01L646.44 1596.01L635.44 1607.01L624.44 1596.01Z" fill="#C77CFF"/><path d="M689.6 1504.24L700.6 1515.24L689.6 1526.24L678.6 1515.24Z" fill="#C77CFF"/><path d="M149.5 1268.8H177.5" stroke="#F8766D" stroke-width="4.6"/><path d="M151.8 1257.1L175.2 1280.5M151.8 1280.5L175.2 1257.1" stroke="#F8766D" stroke-width="1.4" fill="none"/><text class="lg" x="188.4" y="1276.7">Sex-comb</text><path d="M297.5 1268.8H325.5" stroke="#7CAE00" stroke-width="4.6"/><circle cx="311.5" cy="1268.8" r="10.85" fill="#7CAE00"/><text class="lg" x="334" y="1276.7">Sex-dim</text><path d="M425 1268.8H453" stroke="#00BFC4" stroke-width="4.6"/><path d="M439 1251.25L454.2 1277.58L423.8 1277.58Z" fill="#00BFC4"/><text class="lg" x="463.8" y="1276.7">Fem-spec</text><path d="M572 1268.8H600" stroke="#C77CFF" stroke-width="4.6"/><path d="M586 1257.8L597 1268.8L586 1279.8L575 1268.8Z" fill="#C77CFF"/><text class="lg" x="608.9" y="1276.7">Cochr Q</text><text class="lb" x="-1.2" y="1272.2">e</text></g>
<g><path d="M895.3 1320.4L895.3 1725.1L1491.8 1725.1" stroke="#1a1a1a" stroke-width="2.2" fill="none" stroke-linecap="round" stroke-linejoin="round"/><path d="M890.7 1706.4H895.3M923 1725.1V1729.9M890.7 1614.12H895.3M1058.6 1725.1V1729.9M890.7 1521.85H895.3M1194.2 1725.1V1729.9M890.7 1429.58H895.3M1329.8 1725.1V1729.9M890.7 1337.3H895.3M1465.4 1725.1V1729.9" stroke="#1a1a1a" stroke-width="1.9" fill="none"/><text class="tk" x="877.6" y="1716.1" text-anchor="end">0.00</text><text class="tk" x="923.2" y="1766.1" text-anchor="middle">0.000</text><text class="tk" x="877.6" y="1624.1" text-anchor="end">0.25</text><text class="tk" x="1058.2" y="1766.1" text-anchor="middle">0.025</text><text class="tk" x="877.6" y="1532.1" text-anchor="end">0.50</text><text class="tk" x="1193.6" y="1766.1" text-anchor="middle">0.050</text><text class="tk" x="877.6" y="1440.1" text-anchor="end">0.75</text><text class="tk" x="1328.6" y="1766.1" text-anchor="middle">0.075</text><text class="tk" x="877.6" y="1348.1" text-anchor="end">1.00</text><text class="tk" x="1464.2" y="1766.1" text-anchor="middle">0.100</text><text class="tp" transform="translate(1192 1810.7) scale(0.96 1)" text-anchor="middle">Beta</text><text class="tp" transform="translate(799 1522.35) rotate(-90) scale(0.94 1)" text-anchor="middle">Power</text><polyline points="923,1706.4 977.24,1706.4 1031.48,1706.4 1085.72,1706.4 1139.96,1705.29 1194.2,1694.59 1248.44,1646.97 1302.68,1548.79 1356.92,1437.7 1411.16,1369.78 1465.4,1344.68" fill="none" stroke="#F8766D" stroke-width="4.6" stroke-linejoin="round" stroke-linecap="butt"/><polyline points="923,1706.4 977.24,1706.4 1031.48,1706.4 1085.72,1705.29 1139.96,1680.19 1194.2,1574.63 1248.44,1422.56 1302.68,1347.63 1356.92,1338.41 1411.16,1337.3 1465.4,1337.3" fill="none" stroke="#7CAE00" stroke-width="4.6" stroke-linejoin="round" stroke-linecap="butt"/><polyline points="923,1706.4 977.24,1706.4 1031.48,1706.4 1085.72,1703.82 1139.96,1663.95 1194.2,1537.35 1248.44,1396.73 1302.68,1343.57 1356.92,1337.3 1411.16,1337.3 1465.4,1337.3" fill="none" stroke="#00BFC4" stroke-width="4.6" stroke-linejoin="round" stroke-linecap="butt"/><polyline points="923,1706.4 977.24,1706.4 1031.48,1706.4 1085.72,1706.4 1139.96,1705.29 1194.2,1692.74 1248.44,1647.34 1302.68,1547.69 1356.92,1436.59 1411.16,1366.46 1465.4,1341.91" fill="none" stroke="#C77CFF" stroke-width="4.6" stroke-linejoin="round" stroke-linecap="butt"/><path d="M911.3 1694.7L934.7 1718.1M911.3 1718.1L934.7 1694.7" stroke="#F8766D" stroke-width="1.4" fill="none"/><path d="M965.54 1694.7L988.94 1718.1M965.54 1718.1L988.94 1694.7" stroke="#F8766D" stroke-width="1.4" fill="none"/><path d="M1019.78 1694.7L1043.18 1718.1M1019.78 1718.1L1043.18 1694.7" stroke="#F8766D" stroke-width="1.4" fill="none"/><path d="M1074.02 1694.7L1097.42 1718.1M1074.02 1718.1L1097.42 1694.7" stroke="#F8766D" stroke-width="1.4" fill="none"/><path d="M1128.26 1693.59L1151.66 1716.99M1128.26 1716.99L1151.66 1693.59" stroke="#F8766D" stroke-width="1.4" fill="none"/><path d="M1182.5 1682.89L1205.9 1706.29M1182.5 1706.29L1205.9 1682.89" stroke="#F8766D" stroke-width="1.4" fill="none"/><path d="M1236.74 1635.27L1260.14 1658.67M1236.74 1658.67L1260.14 1635.27" stroke="#F8766D" stroke-width="1.4" fill="none"/><path d="M1290.98 1537.09L1314.38 1560.49M1290.98 1560.49L1314.38 1537.09" stroke="#F8766D" stroke-width="1.4" fill="none"/><path d="M1345.22 1426L1368.62 1449.4M1345.22 1449.4L1368.62 1426" stroke="#F8766D" stroke-width="1.4" fill="none"/><path d="M1399.46 1358.08L1422.86 1381.48M1399.46 1381.48L1422.86 1358.08" stroke="#F8766D" stroke-width="1.4" fill="none"/><path d="M1453.7 1332.98L1477.1 1356.38M1453.7 1356.38L1477.1 1332.98" stroke="#F8766D" stroke-width="1.4" fill="none"/><path d="M923 1688.85L938.2 1715.18L907.8 1715.18Z" fill="#00BFC4"/><path d="M977.24 1688.85L992.44 1715.18L962.04 1715.18Z" fill="#00BFC4"/><path d="M1031.48 1688.85L1046.68 1715.18L1016.28 1715.18Z" fill="#00BFC4"/><path d="M1085.72 1686.26L1100.92 1712.59L1070.52 1712.59Z" fill="#00BFC4"/><path d="M1139.96 1646.4L1155.16 1672.73L1124.76 1672.73Z" fill="#00BFC4"/><path d="M1194.2 1519.8L1209.4 1546.13L1179 1546.13Z" fill="#00BFC4"/><path d="M1248.44 1379.17L1263.64 1405.5L1233.24 1405.5Z" fill="#00BFC4"/><path d="M1302.68 1326.02L1317.88 1352.35L1287.48 1352.35Z" fill="#00BFC4"/><path d="M1356.92 1319.75L1372.12 1346.08L1341.72 1346.08Z" fill="#00BFC4"/><path d="M1411.16 1319.75L1426.36 1346.08L1395.96 1346.08Z" fill="#00BFC4"/><path d="M1465.4 1319.75L1480.6 1346.08L1450.2 1346.08Z" fill="#00BFC4"/><circle cx="923" cy="1706.4" r="10.85" fill="#7CAE00"/><circle cx="977.24" cy="1706.4" r="10.85" fill="#7CAE00"/><circle cx="1031.48" cy="1706.4" r="10.85" fill="#7CAE00"/><circle cx="1085.72" cy="1705.29" r="10.85" fill="#7CAE00"/><circle cx="1139.96" cy="1680.19" r="10.85" fill="#7CAE00"/><circle cx="1194.2" cy="1574.63" r="10.85" fill="#7CAE00"/><circle cx="1248.44" cy="1422.56" r="10.85" fill="#7CAE00"/><circle cx="1302.68" cy="1347.63" r="10.85" fill="#7CAE00"/><circle cx="1356.92" cy="1338.41" r="10.85" fill="#7CAE00"/><circle cx="1411.16" cy="1337.3" r="10.85" fill="#7CAE00"/><circle cx="1465.4" cy="1337.3" r="10.85" fill="#7CAE00"/><path d="M923 1695.4L934 1706.4L923 1717.4L912 1706.4Z" fill="#C77CFF"/><path d="M977.24 1695.4L988.24 1706.4L977.24 1717.4L966.24 1706.4Z" fill="#C77CFF"/><path d="M1031.48 1695.4L1042.48 1706.4L1031.48 1717.4L1020.48 1706.4Z" fill="#C77CFF"/><path d="M1085.72 1695.4L1096.72 1706.4L1085.72 1717.4L1074.72 1706.4Z" fill="#C77CFF"/><path d="M1139.96 1694.29L1150.96 1705.29L1139.96 1716.29L1128.96 1705.29Z" fill="#C77CFF"/><path d="M1194.2 1681.74L1205.2 1692.74L1194.2 1703.74L1183.2 1692.74Z" fill="#C77CFF"/><path d="M1248.44 1636.34L1259.44 1647.34L1248.44 1658.34L1237.44 1647.34Z" fill="#C77CFF"/><path d="M1302.68 1536.69L1313.68 1547.69L1302.68 1558.69L1291.68 1547.69Z" fill="#C77CFF"/><path d="M1356.92 1425.59L1367.92 1436.59L1356.92 1447.59L1345.92 1436.59Z" fill="#C77CFF"/><path d="M1411.16 1355.46L1422.16 1366.46L1411.16 1377.46L1400.16 1366.46Z" fill="#C77CFF"/><path d="M1465.4 1330.91L1476.4 1341.91L1465.4 1352.91L1454.4 1341.91Z" fill="#C77CFF"/><path d="M925 1268.8H953" stroke="#F8766D" stroke-width="4.6"/><path d="M927.3 1257.1L950.7 1280.5M927.3 1280.5L950.7 1257.1" stroke="#F8766D" stroke-width="1.4" fill="none"/><text class="lg" x="962.9" y="1276.7">Sex-comb</text><path d="M1073 1268.8H1101" stroke="#7CAE00" stroke-width="4.6"/><circle cx="1087" cy="1268.8" r="10.85" fill="#7CAE00"/><text class="lg" x="1108.3" y="1276.7">Sex-dim</text><path d="M1201 1268.8H1229" stroke="#00BFC4" stroke-width="4.6"/><path d="M1215 1251.25L1230.2 1277.58L1199.8 1277.58Z" fill="#00BFC4"/><text class="lg" x="1237.3" y="1276.7">Fem-spec</text><path d="M1348 1268.8H1376" stroke="#C77CFF" stroke-width="4.6"/><path d="M1362 1257.8L1373 1268.8L1362 1279.8L1351 1268.8Z" fill="#C77CFF"/><text class="lg" x="1382.6" y="1276.7">Cochr Q</text><text class="lb" x="788.2" y="1272.2">f</text></g>
</svg></body></html>
